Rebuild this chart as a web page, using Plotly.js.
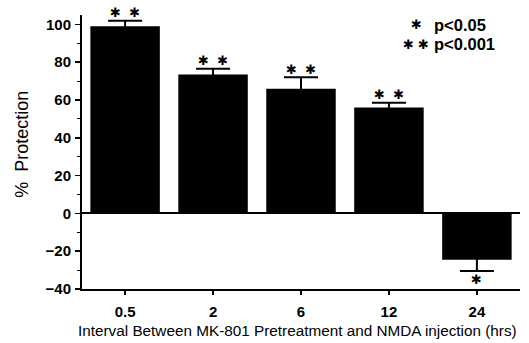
<!DOCTYPE html>
<html><head><meta charset="utf-8">
<script src="https://cdn.plot.ly/plotly-3.0.1.min.js"></script>
<style>body{margin:0;background:#fff}#c{width:529px;height:343px}</style>
</head><body><div id="c"></div>
<script>
const categories = ["0.5", "2", "6", "12", "24"];
const protection = [99, 73.5, 66, 56, -24.5];
const errors = [3, 3, 6, 2.5, 6];
const starLabels = ["✱\u00a0\u00a0✱", "✱\u00a0\u00a0✱", "✱\u00a0\u00a0✱", "✱\u00a0\u00a0✱", "✱"];
const legendStars = ["✱", "✱\u00a0✱"];
const legendText = ["p<0.05", "p<0.001"];
const xTitle = "Interval Between MK-801 Pretreatment and NMDA injection (hrs)";
const yTitle = "%  Protection";

const F = "Liberation Sans, Arial, sans-serif";
const S = "DejaVu Sans, sans-serif";
const trace = {
  type: "bar", x: categories, y: protection,
  marker: {color: "#000", line: {width: 0}},
  width: 0.79,
  error_y: {type: "data", array: errors, visible: true, color: "#000", thickness: 2, width: 17},
  hoverinfo: "none"
};
const ann = categories.map((c, i) => {
  const up = protection[i] >= 0;
  return {
    x: i, y: protection[i] + (up ? errors[i] : -errors[i]), xref: "x", yref: "y",
    yshift: up ? 8 : -8, text: starLabels[i],
    showarrow: false, font: {family: S, size: 13, color: "#000"}
  };
});
const legY = [0.965, 0.893];
legendStars.forEach((s, i) => {
  ann.push({xref: "paper", yref: "paper", x: 0.763, y: legY[i], xanchor: "center", yanchor: "middle",
    text: s, showarrow: false, font: {family: S, size: 13, color: "#000"}});
  ann.push({xref: "paper", yref: "paper", x: 0.8, y: legY[i], xanchor: "left", yanchor: "middle",
    text: "<b>" + legendText[i] + "</b>", showarrow: false, font: {family: F, size: 16.5, color: "#000"}});
});
ann.push({xref: "paper", yref: "paper", x: 0.491, y: -0.15, xanchor: "center", yanchor: "middle",
  text: xTitle, showarrow: false, font: {family: F, size: 15.3, color: "#000"}});
ann.push({xref: "paper", yref: "paper", x: -0.137, y: 0.53, xanchor: "center", yanchor: "middle",
  textangle: -90, text: yTitle, showarrow: false, font: {family: F, size: 18, color: "#000"}});
Plotly.newPlot("c", [trace], {
  width: 529, height: 343,
  margin: {l: 82, r: 9, t: 15, b: 54},
  paper_bgcolor: "#fff", plot_bgcolor: "#fff",
  showlegend: false, bargap: 0.21,
  annotations: ann,
  xaxis: {type: "category", range: [-0.49, 4.49], showline: true, linecolor: "#000", linewidth: 2,
    ticks: "outside", ticklen: 4, tickwidth: 1.5, tickcolor: "#000", ticklabelstandoff: 4,
    tickfont: {family: F, size: 15, color: "#000", weight: "bold"}, showgrid: false, zeroline: false},
  yaxis: {range: [-40, 105], showline: true, linecolor: "#000", linewidth: 2,
    tickvals: [-40, -20, 0, 20, 40, 60, 80, 100],
    ticks: "outside", ticklen: 5, tickwidth: 1.5, tickcolor: "#000", ticklabelstandoff: 1,
    minor: {dtick: 10, tick0: 0, ticks: "outside", ticklen: 3, tickwidth: 1, tickcolor: "#000"},
    tickfont: {family: F, size: 15, color: "#000", weight: "bold"}, showgrid: false,
    zeroline: true, zerolinecolor: "#000", zerolinewidth: 2}
}, {staticPlot: true});
</script></body></html>
